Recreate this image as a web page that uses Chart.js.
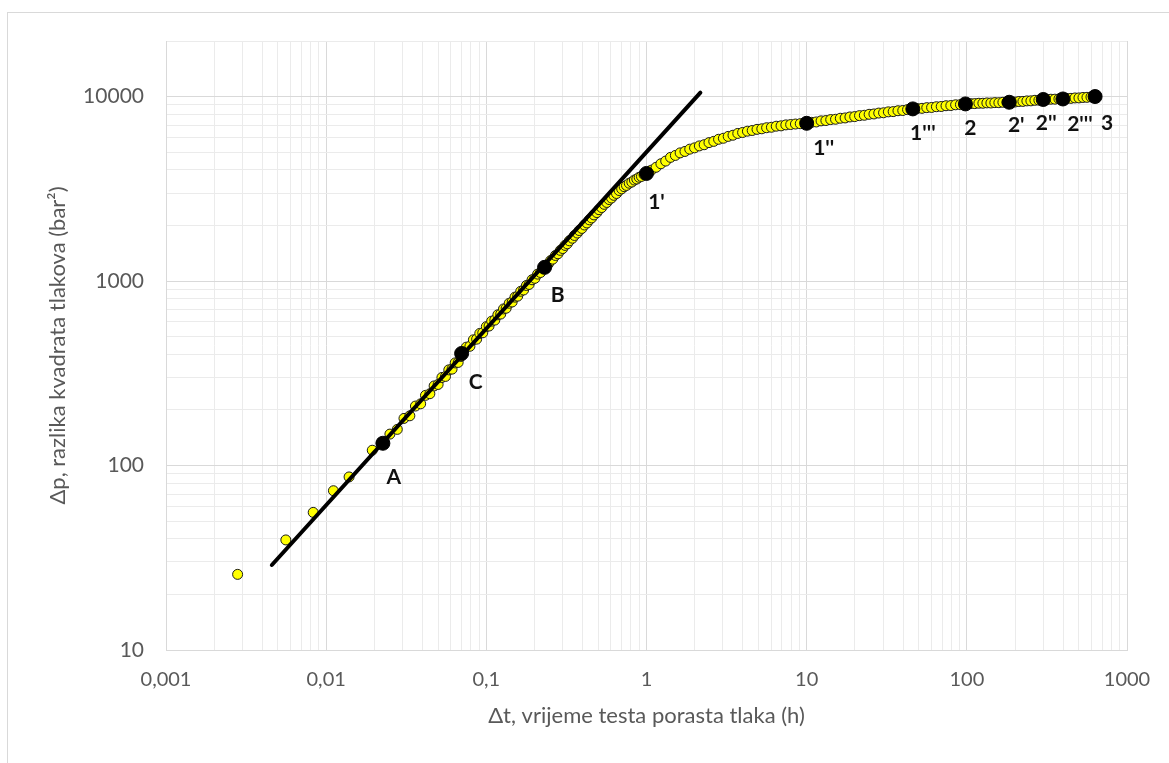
<!DOCTYPE html>
<html>
<head>
<meta charset="utf-8">
<script src="https://cdn.jsdelivr.net/npm/chart.js@4"></script>
<style>
  html, body { margin: 0; padding: 0; background: #fff; overflow: hidden; }
  #frame { position: absolute; left: 7px; top: 12px; width: 1200px; height: 800px;
           border-left: 1px solid #d9d9d9; border-top: 1px solid #d9d9d9; }
  #wrap { position: absolute; left: 0; top: 0; width: 1169px; height: 763px; }
</style>
</head>
<body>
<div id="frame"></div>
<div id="wrap"><canvas id="buildupChart" width="1169" height="763"></canvas></div>
<script>
// Dijagram porasta tlaka (log-log)

// izmjereni podaci: vrijeme (h) i razlika kvadrata tlakova (bar^2)
const dtHours = [
  0.0028, 0.0056, 0.0083, 0.0111, 0.0139, 0.0194, 0.0222,
  0.025, 0.0278, 0.0306, 0.0333, 0.0361, 0.0389, 0.0417, 0.0444, 0.0472, 0.05,
  0.0528, 0.0556, 0.0583, 0.0611, 0.0639, 0.0667, 0.0694,
  0.075, 0.079, 0.083, 0.087, 0.091, 0.095, 0.1, 0.104, 0.108, 0.113, 0.118,
  0.123, 0.128, 0.133, 0.139, 0.145, 0.151, 0.157, 0.164, 0.171, 0.178, 0.185,
  0.193, 0.201, 0.209, 0.218, 0.227,
  0.236, 0.244, 0.252, 0.26, 0.27, 0.28, 0.29, 0.30, 0.31, 0.32, 0.33, 0.345,
  0.355, 0.37, 0.38, 0.395, 0.41, 0.425, 0.44, 0.455, 0.47, 0.49, 0.505, 0.525,
  0.545, 0.565, 0.585, 0.605, 0.625, 0.65, 0.675, 0.70, 0.725, 0.75, 0.78, 0.81,
  0.84, 0.87, 0.90, 0.93, 0.965,
  1.072, 1.148, 1.23, 1.318, 1.413, 1.514, 1.622, 1.738, 1.862, 1.995, 2.138,
  2.291, 2.455, 2.63, 2.818, 3.02, 3.236, 3.467, 3.715, 3.981, 4.266, 4.571,
  4.898, 5.248, 5.623, 6.026, 6.457, 6.918, 7.413, 7.943, 8.511, 9.12,
  10.72, 11.48, 12.3, 13.18, 14.13, 15.14, 16.22, 17.38, 18.62, 19.95, 21.38,
  22.91, 24.55, 26.3, 28.18, 30.2, 32.36, 34.67, 37.15, 39.81, 42.66, 45.71,
  48.98, 52.48, 56.23, 60.26, 64.57, 69.18, 74.13, 79.43, 85.11, 91.2, 97.72,
  105.9, 112.2, 118.9, 125.9, 133.4, 141.3, 149.6, 158.5, 167.9, 177.8, 188.4,
  199.5, 211.3, 223.9, 237.1, 251.2, 266.1, 281.8, 298.5, 316.2, 335, 354.8,
  375.8, 398.1, 421.7, 446.7, 473.2, 501.2, 530.9, 562.3, 595.7, 631
];
const dpBar2 = [
  25.7, 39.5, 55.7, 73, 86.7, 121, 131,
  148, 157, 180, 186, 210, 216, 240, 245, 270, 275,
  300, 304, 330, 333, 360, 362, 390,
  438, 443, 480, 484, 520, 524, 566, 570, 606, 614, 656,
  662, 706, 712, 758, 770, 818, 828, 880, 894, 946, 958,
  1016, 1034, 1090, 1112, 1174,
  1214, 1238, 1290, 1314, 1376, 1405, 1466, 1500, 1560, 1592, 1652, 1706,
  1766, 1820, 1878, 1928, 2012, 2064, 2146, 2198, 2282, 2350, 2436, 2502,
  2604, 2666, 2764, 2818, 2914, 2982, 3094, 3160, 3246, 3298, 3390, 3440,
  3526, 3572, 3650, 3690, 3772,
  3990, 4135, 4322, 4470, 4680, 4795, 4950, 5040, 5185, 5270, 5400,
  5480, 5625, 5715, 5865, 5940, 6080, 6170, 6310, 6385, 6490, 6545,
  6640, 6685, 6775, 6815, 6905, 6935, 7020, 7050, 7095, 7125,
  7245, 7280, 7380, 7410, 7500, 7530, 7625, 7655, 7750, 7785, 7880,
  7915, 8010, 8045, 8135, 8165, 8260, 8285, 8375, 8400, 8495, 8540,
  8610, 8630, 8705, 8725, 8805, 8830, 8915, 8935, 9020, 9040, 9115,
  9150, 9155, 9195, 9195, 9235, 9225, 9270, 9260, 9305, 9300, 9345,
  9340, 9400, 9410, 9470, 9475, 9540, 9550, 9615, 9625, 9670, 9675,
  9715, 9720, 9770, 9775, 9825, 9830, 9885, 9900, 9950, 9970
];

// karakteristicne tocke
const keyNames = ['A', 'C', 'B', "1'", "1''", "1'''", '2', "2'", "2''", "2'''", '3'];
const keyDt = [0.0226, 0.0701, 0.231, 1.0, 10, 46, 98, 184, 300, 398, 632];
const keyDp = [132, 405, 1186, 3830, 7160, 8570, 9120, 9310, 9640, 9700, 10000];

// pravac jedinicnog nagiba
const fitDt = [0.00458, 2.17];
const fitDp = [28.9, 10500];

// osi
const xTickValues = [0.001, 0.01, 0.1, 1, 10, 100, 1000];
const xTickLabels = ['0,001', '0,01', '0,1', '1', '10', '100', '1000'];
const yTickValues = [10, 100, 1000, 10000];
const yTickLabels = ['10', '100', '1000', '10000'];
const yMax = 20000;

// pomak natpisa od tocke (px)
const labelOffsets = [[11, 34], [14, 29], [13, 28], [10, 29], [17, 25], [10, 24],
                      [5, 24], [7, 23], [3, 24], [17, 25], [12, 27]];

const toPoints = (xs, ys) => xs.map((x, i) => ({ x: x, y: ys[i] }));

function logTicks(majors, top) {
  const ticks = [];
  majors.forEach((m, i) => {
    ticks.push({ value: m, major: true });
    if (i < majors.length - 1) {
      for (let k = 2; k <= 9; k++) ticks.push({ value: m * k, major: false });
    }
  });
  if (top) {
    ticks.push({ value: top, major: false });
  }
  return ticks;
}

function labelFor(values, labels, v) {
  const i = values.findIndex(t => Math.abs(t - v) / t < 1e-6);
  return i >= 0 ? labels[i] : '';
}

const keyLabelPlugin = {
  id: 'keyLabels',
  afterDatasetsDraw(chart) {
    const c = chart.ctx;
    const xs = chart.scales.x, ys = chart.scales.y;
    c.save();
    c.font = 'bold 21px Lato';
    c.fillStyle = '#111';
    c.textAlign = 'center';
    c.textBaseline = 'middle';
    keyNames.forEach((name, i) => {
      const px = xs.getPixelForValue(keyDt[i]);
      const py = ys.getPixelForValue(keyDp[i]);
      c.fillText(name, px + labelOffsets[i][0], py + labelOffsets[i][1]);
    });
    c.restore();
  }
};

const ctx = document.getElementById('buildupChart').getContext('2d');
const buildupChart = new Chart(ctx, {
  type: 'scatter',
  data: {
    datasets: [
      {
        label: 'karakteristicne tocke',
        data: toPoints(keyDt, keyDp),
        backgroundColor: '#000',
        borderColor: '#000',
        borderWidth: 1,
        pointRadius: 7,
        order: 0
      },
      {
        label: 'pravac',
        data: toPoints(fitDt, fitDp),
        showLine: true,
        borderColor: '#000',
        borderWidth: 4,
        borderCapStyle: 'round',
        pointRadius: 0,
        order: 1
      },
      {
        label: 'mjerenja',
        data: toPoints(dtHours, dpBar2),
        backgroundColor: '#ffff00',
        borderColor: '#1a1a1a',
        borderWidth: 1,
        pointRadius: 5,
        order: 2
      }
    ]
  },
  options: {
    responsive: false,
    animation: false,
    layout: { padding: { left: 0, top: 41, right: 42, bottom: 0 } },
    plugins: {
      legend: { display: false },
      tooltip: { enabled: false }
    },
    scales: {
      x: {
        type: 'logarithmic',
        min: 0.001,
        max: 1000,
        afterBuildTicks: s => { s.ticks = logTicks(xTickValues); },
        afterFit: s => { s.height = 113; },
        ticks: {
          autoSkip: false,
          maxRotation: 0,
          padding: 18,
          color: '#595959',
          font: { family: 'Lato', size: 20 },
          callback: v => labelFor(xTickValues, xTickLabels, v)
        },
        grid: {
          drawTicks: false,
          color: c => (c.tick && labelFor(xTickValues, xTickLabels, c.tick.value)) ? '#d9d9d9' : '#ebebeb'
        },
        border: { color: '#d9d9d9' },
        title: {
          display: true,
          text: '\u0394t, vrijeme testa porasta tlaka (h)',
          color: '#595959',
          font: { family: 'Lato', size: 22 },
          padding: { top: 0, bottom: 34 }
        }
      },
      y: {
        type: 'logarithmic',
        min: 10,
        max: yMax,
        afterBuildTicks: s => { s.ticks = logTicks(yTickValues, yMax); },
        afterFit: s => { s.width = 166; },
        ticks: {
          autoSkip: false,
          padding: 22,
          color: '#595959',
          font: { family: 'Lato', size: 21 },
          callback: v => labelFor(yTickValues, yTickLabels, v)
        },
        grid: {
          drawTicks: false,
          color: c => (c.tick && labelFor(yTickValues, yTickLabels, c.tick.value)) ? '#d9d9d9' : '#ebebeb'
        },
        border: { color: '#d9d9d9' },
        title: {
          display: true,
          text: '\u0394p, razlika kvadrata tlakova (bar\u00b2)',
          color: '#595959',
          font: { family: 'Lato', size: 22 },
          padding: { top: 45, bottom: 0 }
        }
      }
    }
  },
  plugins: [keyLabelPlugin]
});
</script>
</body>
</html>
